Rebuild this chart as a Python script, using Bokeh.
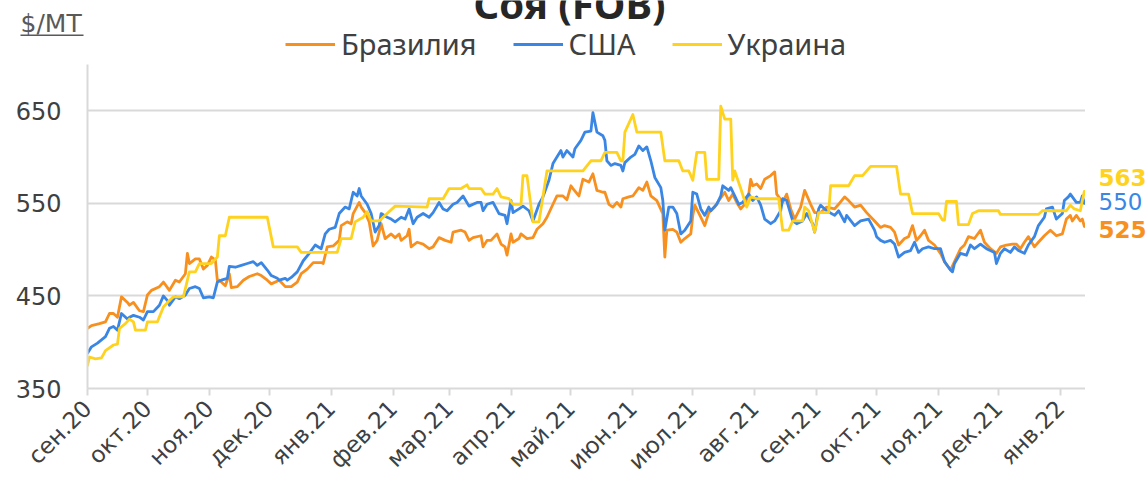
import math
import pandas as pd
from bokeh.plotting import figure
from bokeh.layouts import column, row
from bokeh.models import FixedTicker, Legend, LegendItem, Label, BoxAnnotation, Range1d
from bokeh.core.properties import value
from bokeh.embed import file_html
from bokeh.resources import INLINE

# ---------------- data ----------------
month_starts = ["2020-09-01", "2020-10-01", "2020-11-01", "2020-12-01", "2021-01-01", "2021-02-01",
                "2021-03-01", "2021-04-01", "2021-05-01", "2021-06-01", "2021-07-01", "2021-08-01",
                "2021-09-01", "2021-10-01", "2021-11-01", "2021-12-01", "2022-01-01"]
month_labels = ["сен.20", "окт.20", "ноя.20", "дек.20", "янв.21", "фев.21", "мар.21", "апр.21", "май.21",
                "июн.21", "июл.21", "авг.21", "сен.21", "окт.21", "ноя.21", "дек.21", "янв.22"]
y_ticks = [350, 450, 550, 650]

br_dates = ["2020-09-01","2020-09-03","2020-09-07","2020-09-10","2020-09-12","2020-09-14","2020-09-16","2020-09-18","2020-09-21","2020-09-22","2020-09-24","2020-09-27","2020-09-29","2020-10-01","2020-10-03","2020-10-07","2020-10-09","2020-10-12","2020-10-15","2020-10-17","2020-10-20","2020-10-21","2020-10-22","2020-10-25","2020-10-27","2020-10-29","2020-10-31","2020-11-02","2020-11-04","2020-11-05","2020-11-06","2020-11-09","2020-11-11","2020-11-12","2020-11-15","2020-11-18","2020-11-21","2020-11-25","2020-11-27","2020-11-30","2020-12-02","2020-12-06","2020-12-09","2020-12-12","2020-12-15","2020-12-17","2020-12-20","2020-12-23","2020-12-27","2020-12-28","2020-12-30","2021-01-02","2021-01-05","2021-01-06","2021-01-09","2021-01-11","2021-01-12","2021-01-15","2021-01-16","2021-01-18","2021-01-20","2021-01-22","2021-01-24","2021-01-26","2021-01-28","2021-01-31","2021-02-02","2021-02-04","2021-02-05","2021-02-08","2021-02-09","2021-02-10","2021-02-13","2021-02-16","2021-02-19","2021-02-21","2021-02-24","2021-02-27","2021-03-02","2021-03-03","2021-03-07","2021-03-09","2021-03-11","2021-03-13","2021-03-17","2021-03-18","2021-03-20","2021-03-22","2021-03-25","2021-03-27","2021-03-29","2021-03-30","2021-04-01","2021-04-02","2021-04-05","2021-04-06","2021-04-09","2021-04-12","2021-04-14","2021-04-17","2021-04-19","2021-04-22","2021-04-24","2021-04-27","2021-04-29","2021-05-01","2021-05-02","2021-05-05","2021-05-07","2021-05-10","2021-05-12","2021-05-14","2021-05-17","2021-05-18","2021-05-20","2021-05-22","2021-05-24","2021-05-26","2021-05-27","2021-05-30","2021-06-01","2021-06-04","2021-06-06","2021-06-08","2021-06-10","2021-06-13","2021-06-16","2021-06-17","2021-06-18","2021-06-21","2021-06-23","2021-06-25","2021-06-27","2021-06-30","2021-07-01","2021-07-02","2021-07-05","2021-07-07","2021-07-09","2021-07-12","2021-07-14","2021-07-17","2021-07-19","2021-07-21","2021-07-23","2021-07-25","2021-07-27","2021-07-29","2021-07-30","2021-07-31","2021-08-02","2021-08-04","2021-08-06","2021-08-09","2021-08-11","2021-08-12","2021-08-15","2021-08-17","2021-08-19","2021-08-21","2021-08-24","2021-08-26","2021-08-29","2021-08-31","2021-09-03","2021-09-06","2021-09-10","2021-09-12","2021-09-15","2021-09-17","2021-09-20","2021-09-23","2021-09-26","2021-09-30","2021-10-03","2021-10-05","2021-10-08","2021-10-10","2021-10-12","2021-10-15","2021-10-17","2021-10-19","2021-10-21","2021-10-23","2021-10-25","2021-10-27","2021-10-30","2021-11-02","2021-11-04","2021-11-07","2021-11-09","2021-11-12","2021-11-14","2021-11-16","2021-11-19","2021-11-22","2021-11-24","2021-11-27","2021-11-30","2021-12-02","2021-12-05","2021-12-08","2021-12-10","2021-12-12","2021-12-14","2021-12-16","2021-12-19","2021-12-21","2021-12-24","2021-12-27","2021-12-30","2022-01-02","2022-01-04","2022-01-06","2022-01-07","2022-01-09","2022-01-11","2022-01-12","2022-01-13"]
br_vals = [415,418,420,422,431,431,427,449,443,440,443,434,433,451,456,460,465,456,467,465,474,496,485,490,490,479,483,492,489,467,467,461,474,459,460,467,471,474,472,467,463,467,460,460,465,474,479,486,486,485,503,504,510,526,530,528,539,551,546,540,530,504,510,528,512,517,513,517,510,515,522,503,508,506,501,503,513,510,508,519,521,519,510,513,515,503,510,510,517,506,503,494,517,508,512,517,512,513,522,528,535,549,558,558,554,569,566,558,576,573,582,564,562,562,549,546,551,546,555,557,558,567,564,573,558,553,539,492,521,522,519,508,512,517,537,548,535,526,540,546,553,562,553,560,551,544,549,560,576,569,571,566,576,580,584,560,551,560,544,533,546,564,549,540,540,546,544,549,557,553,546,548,540,531,524,526,524,519,505,512,514,526,510,515,521,510,505,496,487,478,487,501,505,514,512,521,508,501,496,503,505,506,506,501,508,514,503,508,515,521,515,517,533,537,531,537,531,533,525]

us_dates = ["2020-09-01","2020-09-03","2020-09-06","2020-09-10","2020-09-12","2020-09-14","2020-09-16","2020-09-18","2020-09-21","2020-09-22","2020-09-24","2020-09-27","2020-09-29","2020-10-01","2020-10-04","2020-10-07","2020-10-09","2020-10-11","2020-10-12","2020-10-15","2020-10-17","2020-10-20","2020-10-22","2020-10-25","2020-10-27","2020-10-29","2020-11-01","2020-11-03","2020-11-05","2020-11-07","2020-11-10","2020-11-11","2020-11-14","2020-11-17","2020-11-20","2020-11-23","2020-11-25","2020-11-27","2020-11-30","2020-12-02","2020-12-05","2020-12-06","2020-12-09","2020-12-10","2020-12-12","2020-12-15","2020-12-18","2020-12-21","2020-12-24","2020-12-27","2020-12-29","2020-12-31","2021-01-03","2021-01-05","2021-01-08","2021-01-10","2021-01-12","2021-01-14","2021-01-15","2021-01-16","2021-01-19","2021-01-21","2021-01-23","2021-01-25","2021-01-26","2021-01-29","2021-01-31","2021-02-02","2021-02-05","2021-02-07","2021-02-09","2021-02-11","2021-02-13","2021-02-16","2021-02-19","2021-02-21","2021-02-24","2021-02-26","2021-02-28","2021-03-03","2021-03-05","2021-03-08","2021-03-11","2021-03-15","2021-03-17","2021-03-18","2021-03-20","2021-03-23","2021-03-26","2021-03-29","2021-03-30","2021-04-01","2021-04-02","2021-04-05","2021-04-07","2021-04-10","2021-04-12","2021-04-15","2021-04-17","2021-04-20","2021-04-22","2021-04-26","2021-04-27","2021-04-29","2021-05-02","2021-05-03","2021-05-06","2021-05-08","2021-05-11","2021-05-12","2021-05-14","2021-05-17","2021-05-18","2021-05-19","2021-05-21","2021-05-23","2021-05-26","2021-05-27","2021-05-28","2021-05-31","2021-06-02","2021-06-04","2021-06-06","2021-06-08","2021-06-10","2021-06-12","2021-06-15","2021-06-16","2021-06-17","2021-06-19","2021-06-21","2021-06-23","2021-06-25","2021-06-27","2021-06-30","2021-07-01","2021-07-03","2021-07-05","2021-07-07","2021-07-09","2021-07-10","2021-07-13","2021-07-15","2021-07-16","2021-07-19","2021-07-20","2021-07-22","2021-07-24","2021-07-26","2021-07-29","2021-07-31","2021-08-02","2021-08-04","2021-08-06","2021-08-09","2021-08-11","2021-08-14","2021-08-15","2021-08-17","2021-08-20","2021-08-22","2021-08-25","2021-08-27","2021-08-30","2021-08-31","2021-09-02","2021-09-03","2021-09-06","2021-09-10","2021-09-12","2021-09-15","2021-09-16","2021-09-20","2021-09-23","2021-09-27","2021-09-30","2021-10-01","2021-10-03","2021-10-05","2021-10-08","2021-10-10","2021-10-12","2021-10-15","2021-10-18","2021-10-20","2021-10-22","2021-10-24","2021-10-27","2021-10-30","2021-11-02","2021-11-04","2021-11-07","2021-11-08","2021-11-09","2021-11-12","2021-11-15","2021-11-17","2021-11-19","2021-11-22","2021-11-25","2021-11-29","2021-11-30","2021-12-02","2021-12-04","2021-12-07","2021-12-09","2021-12-11","2021-12-14","2021-12-16","2021-12-19","2021-12-21","2021-12-24","2021-12-25","2021-12-28","2021-12-30","2022-01-02","2022-01-03","2022-01-05","2022-01-06","2022-01-09","2022-01-11","2022-01-12","2022-01-13"]
us_vals = [388,395,399,406,415,417,413,431,425,427,429,427,424,433,433,440,450,445,440,449,447,451,458,460,458,448,449,448,465,467,469,482,481,483,485,487,483,486,478,472,469,467,469,467,470,476,488,496,505,501,517,522,524,539,546,544,562,558,566,558,549,539,519,526,539,535,533,530,535,533,544,528,535,539,535,540,551,544,542,549,551,558,547,551,551,542,549,551,539,537,528,553,540,544,547,542,531,549,557,575,593,607,600,607,600,609,618,627,628,648,627,623,618,596,591,593,591,585,594,600,603,612,607,611,596,578,567,553,521,546,546,539,517,521,531,562,560,544,537,546,542,549,558,569,564,567,558,549,551,560,553,557,548,533,528,531,542,555,553,531,528,531,539,528,519,544,548,542,537,542,530,537,526,531,533,521,514,510,508,510,506,492,497,499,508,497,501,503,501,501,487,478,476,485,496,494,505,501,506,501,497,485,496,501,497,503,499,496,505,514,526,535,544,546,533,539,553,557,560,551,551,558,550]

ua_dates = ["2020-09-01","2020-09-02","2020-09-05","2020-09-08","2020-09-10","2020-09-14","2020-09-16","2020-09-17","2020-09-20","2020-09-22","2020-09-24","2020-09-25","2020-09-30","2020-10-01","2020-10-06","2020-10-09","2020-10-12","2020-10-14","2020-10-19","2020-10-22","2020-10-25","2020-10-27","2020-11-02","2020-11-05","2020-11-06","2020-11-09","2020-11-11","2020-11-30","2020-12-03","2020-12-15","2020-12-17","2021-01-04","2021-01-06","2021-01-11","2021-01-13","2021-01-17","2021-01-19","2021-01-21","2021-01-25","2021-01-29","2021-02-02","2021-02-18","2021-02-19","2021-02-26","2021-03-01","2021-03-07","2021-03-10","2021-03-11","2021-03-17","2021-03-19","2021-03-23","2021-03-25","2021-03-27","2021-03-31","2021-04-02","2021-04-06","2021-04-07","2021-04-09","2021-04-12","2021-04-15","2021-04-19","2021-05-07","2021-05-11","2021-05-16","2021-05-18","2021-05-24","2021-05-26","2021-05-27","2021-05-28","2021-06-01","2021-06-03","2021-06-15","2021-06-17","2021-06-24","2021-06-26","2021-06-29","2021-07-01","2021-07-03","2021-07-07","2021-07-08","2021-07-14","2021-07-15","2021-07-17","2021-07-20","2021-07-21","2021-07-22","2021-07-25","2021-07-28","2021-07-30","2021-08-02","2021-08-13","2021-08-15","2021-08-18","2021-08-20","2021-08-25","2021-08-26","2021-08-28","2021-08-31","2021-09-02","2021-09-07","2021-09-08","2021-09-17","2021-09-20","2021-09-24","2021-09-28","2021-10-11","2021-10-13","2021-10-17","2021-10-19","2021-11-01","2021-11-03","2021-11-04","2021-11-05","2021-11-10","2021-11-11","2021-11-16","2021-11-18","2021-11-21","2021-12-01","2021-12-02","2021-12-21","2021-12-23","2022-01-04","2022-01-06","2022-01-08","2022-01-11","2022-01-12","2022-01-13"]
ua_vals = [375,384,382,383,391,397,398,415,420,425,422,413,413,422,422,438,445,449,449,476,476,485,485,492,515,515,535,535,503,503,497,497,512,512,530,535,541,531,531,539,547,546,555,555,566,566,570,566,566,560,560,566,557,555,549,549,580,580,530,530,585,585,596,596,605,605,596,596,627,646,627,627,596,596,585,585,575,605,605,576,576,655,641,641,575,585,566,546,557,555,555,521,521,531,531,546,542,519,540,540,569,569,580,580,590,590,560,560,539,539,532,532,552,552,527,527,539,542,542,538,538,542,542,548,544,542,553,563]

series_names = ["Бразилия", "США", "Украина"]
series_colors = ["#F7901E", "#3A86E4", "#FFD21E"]

# ---------------- styling ----------------
NUM_FONT = "DejaVu Sans"
TXT = "#404040"
GRID = "#D9D9D9"


def ms(s):
    return int(pd.Timestamp(s).value // 10**6)


tick_ms = [ms(d) for d in month_starts]
y_rng = Range1d(350, 700)

# ---------------- main plot ----------------
p = figure(width=1085, height=422, x_axis_type="datetime",
           x_range=Range1d(pd.Timestamp("2020-09-01"), pd.Timestamp("2022-01-13 14:00")),
           y_range=y_rng, output_backend="svg", toolbar_location=None,
           min_border_left=87, min_border_right=0, min_border_top=0, min_border_bottom=98)
p.outline_line_color = None

xa = p.xaxis[0]
xa.ticker = FixedTicker(ticks=tick_ms)
xa.major_label_overrides = {t: l for t, l in zip(tick_ms, month_labels)}
xa.major_label_orientation = math.pi / 4
xa.axis_line_color = GRID
xa.axis_line_width = 2
xa.major_tick_line_color = GRID
xa.major_tick_line_width = 2
xa.major_tick_out = 7
xa.major_tick_in = 0
xa.minor_tick_line_color = None
xa.major_label_text_font = NUM_FONT
xa.major_label_text_font_size = "23px"
xa.major_label_text_color = TXT
xa.major_label_standoff = 9

ya = p.yaxis[0]
ya.ticker = FixedTicker(ticks=y_ticks)
ya.axis_line_color = GRID
ya.axis_line_width = 2
ya.major_tick_line_color = None
ya.major_tick_out = 0
ya.major_tick_in = 0
ya.minor_tick_line_color = None
ya.major_label_text_font = NUM_FONT
ya.major_label_text_font_size = "24px"
ya.major_label_text_color = TXT
ya.major_label_standoff = 26

p.xgrid.visible = False
p.ygrid.ticker = FixedTicker(ticks=[t for t in y_ticks if t > 350])
p.ygrid.grid_line_color = GRID
p.ygrid.grid_line_width = 2

for dates, vals, color in [(br_dates, br_vals, series_colors[0]),
                           (us_dates, us_vals, series_colors[1]),
                           (ua_dates, ua_vals, series_colors[2])]:
    p.line(pd.to_datetime(dates), vals, line_color=color, line_width=2.8,
           line_join="round", line_cap="round")

# ---------------- right strip: last values ----------------
pr = figure(width=63, height=422, x_range=Range1d(0, 63), y_range=y_rng,
            x_axis_location=None, y_axis_location=None, output_backend="svg",
            toolbar_location=None, min_border_left=0, min_border_right=0,
            min_border_top=0, min_border_bottom=98)
pr.outline_line_color = None
pr.grid.visible = False
end_offsets = [3, -2, -14]
end_styles = ["bold", "normal", "bold"]
for vals, color, dy, st in zip([br_vals, us_vals, ua_vals], series_colors, end_offsets, end_styles):
    pr.text(x=[0], y=[vals[-1]], text=[str(vals[-1])], x_offset=13, y_offset=dy,
            text_align="left", text_baseline="middle", text_font=value(NUM_FONT),
            text_font_size="23px", text_font_style=st, text_color=color)

# ---------------- top strip: title, unit, legend ----------------
pt = figure(width=1148, height=64, x_range=Range1d(0, 1148), y_range=Range1d(0, 64),
            x_axis_location=None, y_axis_location=None, output_backend="svg",
            toolbar_location=None, min_border=0)
pt.outline_line_color = None
pt.grid.visible = False

# legend keys only (drawn outside the visible range of this strip)
dummies = [pt.line(x=[-20, -10], y=[-50, -50], line_color=c, line_width=3) for c in series_colors]
legend = Legend(items=[LegendItem(label=n, renderers=[r]) for n, r in zip(series_names, dummies)],
                orientation="horizontal", location=(285, 1),
                border_line_color=None, background_fill_alpha=0,
                padding=0, margin=0, spacing=36, glyph_width=50, glyph_height=20,
                label_standoff=6, label_text_font="Noto Sans", label_text_font_size="29px",
                label_text_color=TXT, label_height=20)
pt.add_layout(legend, "center")

pt.add_layout(Label(x=569, y=61, text="Соя (FOB)", text_align="center", text_baseline="middle",
                    text_font="Noto Sans", text_font_size="40px", text_font_style="bold",
                    text_color="#262626"))
pt.add_layout(Label(x=20, y=41.5, text="$/MT", text_align="left", text_baseline="middle",
                    text_font=NUM_FONT, text_font_size="25px", text_color="#595959"))
pt.add_layout(BoxAnnotation(left=20, right=83, bottom=28.5, top=30,
                            fill_color="#595959", fill_alpha=1, line_color=None))

layout = column(pt, row(p, pr, spacing=0), spacing=0)
open("out.html", "w").write(file_html(layout, INLINE))
